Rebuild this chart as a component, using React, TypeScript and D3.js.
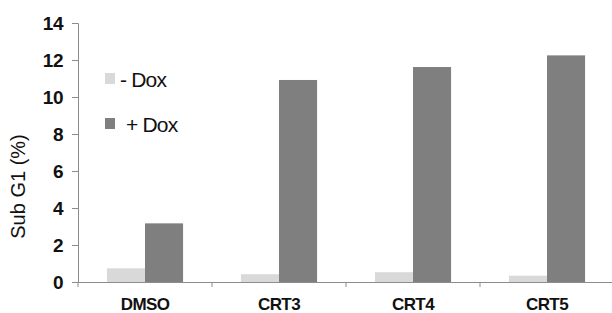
import React, { useEffect, useRef } from "react";
import * as d3 from "d3";

const categories = ["DMSO", "CRT3", "CRT4", "CRT5"];
const series = ["- Dox", "+ Dox"];
const minusDox = [0.74, 0.42, 0.53, 0.34];
const plusDox = [3.17, 10.92, 11.62, 12.25];
const yTicks = [0, 2, 4, 6, 8, 10, 12, 14];
const colors = ["#d9d9d9", "#7f7f7f"];

function App() {
  const svgRef = useRef(null);
  const [width, height] = [612, 313];
  const margin = { top: 23, right: -2, bottom: 31, left: 78 };

  useEffect(() => {
    document.body.style.margin = "0";
    const svg = d3.select(svgRef.current);
    svg.selectAll("*").remove();

    const font = "'Liberation Sans', Arial, sans-serif";
    const axisColor = "#8c8c8c";

    const x0 = d3
      .scaleBand()
      .domain(categories)
      .range([margin.left, width - margin.right])
      .padding(0);

    const x1 = d3
      .scaleBand()
      .domain(series)
      .range([0, x0.bandwidth()])
      .paddingInner(0)
      .paddingOuter(0.76);

    const y = d3
      .scaleLinear()
      .domain([0, 14])
      .range([height - margin.bottom, margin.top]);

    const values = [minusDox, plusDox];

    // bars
    series.forEach((s, si) => {
      svg
        .append("g")
        .selectAll("rect")
        .data(categories)
        .join("rect")
        .attr("x", (c) => x0(c) + x1(s))
        .attr("y", (c, i) => y(values[si][i]))
        .attr("width", x1.bandwidth())
        .attr("height", (c, i) => y(0) - y(values[si][i]))
        .attr("fill", colors[si]);
    });

    // y axis
    const yAxis = svg
      .append("g")
      .attr("transform", `translate(${margin.left},0)`)
      .call(d3.axisLeft(y).tickValues(yTicks).tickSize(6).tickPadding(9));
    yAxis.select(".domain").attr("stroke", axisColor);
    yAxis.selectAll(".tick line").attr("stroke", axisColor);
    yAxis
      .selectAll(".tick text")
      .attr("font-family", font)
      .attr("font-size", 19)
      .attr("font-weight", "bold")
      .attr("letter-spacing", -0.5)
      .attr("fill", "#111");

    // x axis
    const xAxis = svg
      .append("g")
      .attr("transform", `translate(0,${y(0)})`)
      .call(d3.axisBottom(x0).tickSize(0).tickPadding(16));
    xAxis.select(".domain").attr("stroke", axisColor);
    xAxis
      .selectAll(".tick text")
      .attr("font-family", font)
      .attr("font-size", 17)
      .attr("font-weight", "bold")
      .attr("letter-spacing", -0.6)
      .attr("fill", "#111");

    // category boundary ticks
    svg
      .append("g")
      .selectAll("line")
      .data(categories)
      .join("line")
      .attr("x1", (c) => x0(c))
      .attr("x2", (c) => x0(c))
      .attr("y1", y(0))
      .attr("y2", y(0) + 5)
      .attr("stroke", axisColor);

    // y label
    svg
      .append("text")
      .attr("transform", `translate(25,${(y(0) + y(14)) / 2 + 34}) rotate(-90)`)
      .attr("text-anchor", "middle")
      .attr("font-family", font)
      .attr("font-size", 20)
      .attr("fill", "#111")
      .text("Sub G1 (%)");

    // legend
    const legend = svg.append("g").attr("transform", "translate(105,73)");
    series.forEach((s, i) => {
      const g = legend.append("g").attr("transform", `translate(0,${i * 45})`);
      g.append("rect")
        .attr("width", 10)
        .attr("height", 11)
        .attr("fill", colors[i]);
      g.append("text")
        .attr("x", i === 0 ? 15 : 21)
        .attr("y", 14)
        .attr("font-family", font)
        .attr("font-size", 21)
        .attr("letter-spacing", -0.8)
        .attr("fill", "#111")
        .text(i === 0 ? "- Dox" : "+ Dox");
    });
  }, []);

  return <svg ref={svgRef} width={width} height={height}></svg>;
}

export default App;
